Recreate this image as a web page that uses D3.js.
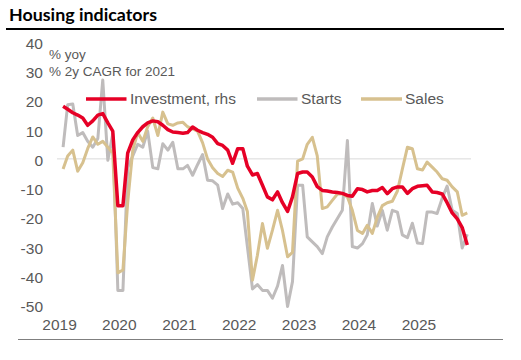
<!DOCTYPE html>
<html>
<head>
<meta charset="utf-8">
<script src="https://cdn.jsdelivr.net/npm/d3@7"></script>
<style>
  html, body { margin: 0; padding: 0; background: #fff; }
  svg { display: block; }
</style>
</head>
<body>
<svg id="chart" width="521" height="360"></svg>
<script>
// Monthly data, Feb 2019 .. Nov 2025
const startMonth = [2019, 1]; // Feb 2019 (0-based month)
const investment = [18,17,15.8,15,14,11.5,13,15,15.5,12.3,9.5,-16,-16,2,6.5,9,11,12.3,13,12.7,11.5,10,9.2,9,8.8,9,10.9,9.8,9,8.4,7.4,5.2,4.6,3,-1.5,3.5,3.5,-2.5,-5.5,-5,-9,-13,-14,-11.3,-15,-18,-13,-5,-4.5,-4.5,-6.2,-9.5,-10.8,-11,-11.3,-11.5,-11.8,-12.5,-12.8,-10.2,-10.5,-11.3,-10.8,-10.8,-9.8,-11.9,-10.2,-9.6,-9.6,-11.8,-10.2,-9.4,-9.2,-9,-11.3,-11.5,-12,-15,-18.5,-20.5,-23.5,-29.5];
const starts = [4,18.5,18.8,8,9,6,4,7,27,-0.5,8.6,-45,-45,-3,1,5,4,9.5,-3,-3.4,5.2,3,5.7,-3.4,-3.4,-2.2,-5.6,-2,1.5,-7.3,-7.5,-9,-17,-12,-15.5,-15,-17,-30,-44.5,-43,-45,-45,-47.7,-43.5,-36.5,-50.5,-42,-9,-9,-26.7,-28.4,-30,-32.4,-26.7,-23.3,-20.4,-17.6,6.3,-30,-30.5,-29,-26,-15.3,-23,-17.6,-24.4,-17.6,-18.2,-26,-27,-22,-28.8,-29,-18.2,-18.2,-18.7,-13.5,-9.3,-17.6,-18.7,-30.5,-25.8];
const sales = [-3.5,1,3,-4.2,-1.3,3.5,7.5,5,6,4,2,-39,-38,-15,3,9,6,11,14,8,16,12,11.5,12.3,12.5,11,10.3,9.5,5.5,0,-3,-5,-6,-3.9,-4.5,-10,-13.5,-18,-41.5,-33,-22.1,-30.6,-24.4,-17.6,-24.5,-33.5,-32,-0.8,0,5,7.4,1,-17,-16.4,-14.2,-12,-12,-13,-17.6,-24.5,-25.5,-22.7,-25.5,-20,-16,-15,-14.5,-11,-3.5,4,3.5,-3.4,-3.8,-1.1,-2.8,-4.5,-6.8,-7.3,-9.6,-11.3,-19.3,-18.5];
const yTicks = [40,30,20,10,0,-10,-20,-30,-40,-50];
const xTickYears = [2019,2020,2021,2022,2023,2024,2025];
const seriesNames = ["Investment, rhs", "Starts", "Sales"];
const seriesColors = ["#e60026", "#bfbcbc", "#d7c18f"];

const dates = investment.map((_, i) => new Date(startMonth[0], startMonth[1] + i, 1));

const svg = d3.select("#chart");
const font = "'Liberation Sans', Arial, sans-serif";
const textColor = "#595959";

// Title
svg.append("text")
  .attr("x", 9).attr("y", 20.5)
  .attr("font-family", "Lato, 'Open Sans', sans-serif")
  .attr("font-weight", "bold")
  .attr("font-size", 17)
  .attr("fill", "#000")
  .attr("textLength", 148)
  .attr("lengthAdjust", "spacingAndGlyphs")
  .text("Housing indicators");
svg.append("line")
  .attr("x1", 6).attr("x2", 504).attr("y1", 29).attr("y2", 29)
  .attr("stroke", "#000").attr("stroke-width", 2);

// Scales
const x = d3.scaleTime()
  .domain([new Date(2019, 0, 1), new Date(2025, 11, 1)])
  .range([58, 472.2]);
const y = d3.scaleLinear().domain([-50, 40]).range([305, 42]);

// Zero line
svg.append("line")
  .attr("x1", 57).attr("x2", 471)
  .attr("y1", y(0)).attr("y2", y(0))
  .attr("stroke", "#d9d9d9").attr("stroke-width", 1);

// Y axis
const yAxis = d3.axisLeft(y).tickValues(yTicks).tickSize(0).tickPadding(0)
  .tickFormat(d => String(d));
const gy = svg.append("g").attr("transform", "translate(43,0)").call(yAxis);
gy.select(".domain").remove();
gy.selectAll("text")
  .attr("font-family", font).attr("font-size", 15.5)
  .attr("fill", textColor).attr("dy", null)
  .attr("y", 6.5);

// X axis
const xAxis = d3.axisBottom(x)
  .tickValues(xTickYears.map(yr => new Date(yr, 0, 1)))
  .tickSize(0).tickPadding(0)
  .tickFormat(d3.timeFormat("%Y"));
const gx = svg.append("g").attr("transform", "translate(0,330)").call(xAxis);
gx.select(".domain").remove();
gx.selectAll("text")
  .attr("font-family", font).attr("font-size", 15.5)
  .attr("fill", textColor).attr("dy", null).attr("y", 0)
  .attr("dx", 1);

// Bottom rule
svg.append("line")
  .attr("x1", 18).attr("x2", 503).attr("y1", 339.5).attr("y2", 339.5)
  .attr("stroke", "#7f7f7f").attr("stroke-width", 1);

// Unit notes
svg.append("text").attr("x", 49).attr("y", 58.5)
  .attr("font-family", font).attr("font-size", 13.5).attr("fill", textColor)
  .text("% yoy");
svg.append("text").attr("x", 49).attr("y", 76.3)
  .attr("font-family", font).attr("font-size", 13.5).attr("fill", textColor)
  .text("% 2y CAGR for 2021");

// Lines
const line = d3.line().x((d, i) => x(dates[i])).y(d => y(d)).curve(d3.curveLinear);
const drawOrder = [
  { data: starts, color: seriesColors[1], w: 3 },
  { data: sales, color: seriesColors[2], w: 3 },
  { data: investment, color: seriesColors[0], w: 3.5 }
];
drawOrder.forEach(s => {
  svg.append("path").datum(s.data)
    .attr("d", line)
    .attr("fill", "none")
    .attr("stroke", s.color)
    .attr("stroke-width", s.w)
    .attr("stroke-linejoin", "round")
    .attr("stroke-linecap", "butt");
});

// Legend
const legendItems = [
  { name: seriesNames[0], color: seriesColors[0], x1: 86, x2: 126.5, tx: 130, w: 3.5 },
  { name: seriesNames[1], color: seriesColors[1], x1: 257, x2: 297.5, tx: 301, w: 3.5 },
  { name: seriesNames[2], color: seriesColors[2], x1: 361, x2: 402, tx: 405, w: 3.5 }
];
const lg = svg.append("g");
legendItems.forEach(it => {
  lg.append("line").attr("x1", it.x1).attr("x2", it.x2).attr("y1", 99).attr("y2", 99)
    .attr("stroke", it.color).attr("stroke-width", it.w);
  lg.append("text").attr("x", it.tx).attr("y", 104)
    .attr("font-family", font).attr("font-size", 15.5).attr("fill", textColor)
    .text(it.name);
});
</script>
</body>
</html>
